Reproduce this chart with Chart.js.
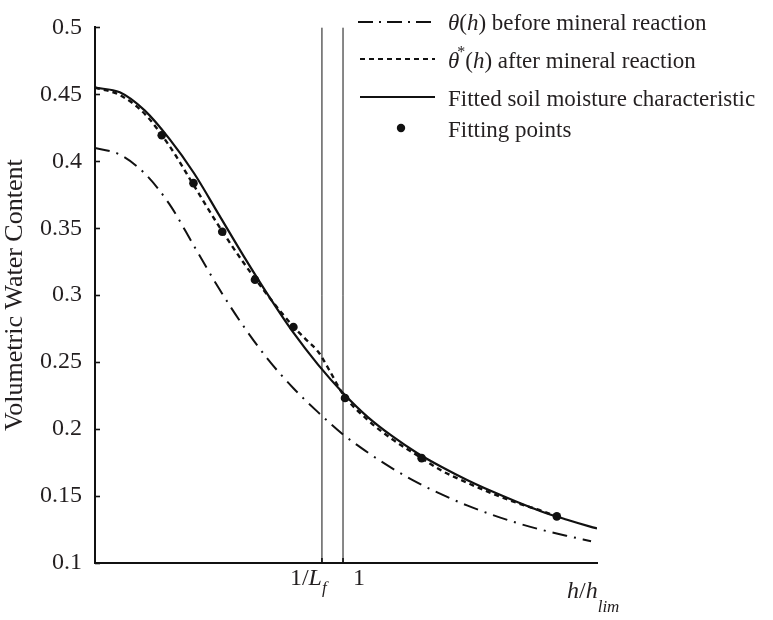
<!DOCTYPE html>
<html>
<head>
<meta charset="utf-8">
<script src="https://cdn.jsdelivr.net/npm/chart.js@4.4.1/dist/chart.umd.min.js"></script>
<style>
  html, body { margin: 0; padding: 0; background: #fff; }
  canvas { display: block; }
</style>
</head>
<body>
<canvas id="c" width="773" height="620"></canvas>
<script>
// ---- data ----
const yTicks = [0.1, 0.15, 0.2, 0.25, 0.3, 0.35, 0.4, 0.45, 0.5];
const refLines = [0.915, 1.0];          // 1/Lf and 1
const xMin = 0, xMax = 2.024;

const beforeX = [0, 0.1, 0.2, 0.3, 0.4, 0.5, 0.6, 0.7, 0.8, 0.9, 1.0, 1.1, 1.2, 1.3, 1.4, 1.5, 1.6, 1.7, 1.8, 1.9, 2.0];
const beforeY = [0.410, 0.405, 0.391, 0.368, 0.3365, 0.305, 0.2765, 0.2515, 0.2305, 0.2125, 0.196, 0.1825, 0.1705, 0.160, 0.151, 0.143, 0.1361, 0.130, 0.1248, 0.1204, 0.1163];

const afterX = [0, 0.1, 0.2, 0.3, 0.4, 0.5, 0.6, 0.7, 0.8, 0.85, 0.9, 0.915, 0.95, 1.0, 1.1, 1.2, 1.3, 1.4, 1.5, 1.6, 1.7, 1.8, 1.867];
const afterY = [0.455, 0.4495, 0.4355, 0.4115, 0.3815, 0.3515, 0.324, 0.299, 0.2765, 0.267, 0.2578, 0.2535, 0.2423, 0.226, 0.2068, 0.1922, 0.1803, 0.1687, 0.160, 0.152, 0.145, 0.139, 0.1345];

const fittedX = [0, 0.1, 0.2, 0.3, 0.4, 0.5, 0.6, 0.7, 0.8, 0.9, 1.0, 1.1, 1.2, 1.3, 1.4, 1.5, 1.6, 1.7, 1.8, 1.9, 2.0, 2.024];
const fittedY = [0.455, 0.4515, 0.438, 0.4167, 0.3909, 0.360, 0.329, 0.2995, 0.272, 0.248, 0.227, 0.209, 0.1945, 0.182, 0.1715, 0.162, 0.1535, 0.1457, 0.1385, 0.1325, 0.127, 0.1258];

const pointsX = [0.269, 0.397, 0.513, 0.645, 0.800, 1.008, 1.317, 1.862];
const pointsY = [0.4195, 0.3837, 0.3474, 0.3116, 0.2763, 0.2232, 0.1783, 0.1348];

const legendLabels = ['θ(h) before mineral reaction', 'θ*(h) after mineral reaction', 'Fitted soil moisture characteristic', 'Fitting points'];

// ---- helpers ----
const SERIF = '"Liberation Serif", "Times New Roman", serif';
const INK = '#231f20';
const pairs = (xs, ys) => xs.map((x, i) => ({ x: x, y: ys[i] }));

function drawRuns(ctx, x, base, runs) {
  let cx = x;
  runs.forEach(r => {
    ctx.font = (r.italic ? 'italic ' : '') + r.size + 'px ' + SERIF;
    ctx.fillText(r.t, cx, base + (r.dy || 0));
    cx += ctx.measureText(r.t).width + (r.kern || 0);
  });
  return cx;
}

const overlay = {
  id: 'overlay',
  afterDraw(chart) {
    const ctx = chart.ctx;
    const xs = chart.scales.x, ys = chart.scales.y;
    ctx.save();
    ctx.strokeStyle = '#111';
    ctx.lineWidth = 1.6;
    // inward y ticks
    yTicks.forEach(v => {
      const py = Math.round(ys.getPixelForValue(v)) + 0.5;
      ctx.beginPath(); ctx.moveTo(xs.left, py); ctx.lineTo(xs.left + 5, py); ctx.stroke();
    });
    // inward x ticks at the reference lines
    refLines.forEach(v => {
      const px = xs.getPixelForValue(v);
      ctx.beginPath(); ctx.moveTo(px, ys.bottom); ctx.lineTo(px, ys.bottom - 5); ctx.stroke();
    });

    ctx.fillStyle = INK;
    ctx.textAlign = 'left';
    ctx.textBaseline = 'alphabetic';
    // x labels
    const p1 = xs.getPixelForValue(refLines[0]);
    const p2 = xs.getPixelForValue(refLines[1]);
    drawRuns(ctx, p1 - 32, 585, [
      { t: '1/', size: 24 },
      { t: 'L', size: 24, italic: true },
      { t: 'f', size: 17, italic: true, dy: 8 }
    ]);
    drawRuns(ctx, p2 + 10, 585, [{ t: '1', size: 24 }]);
    drawRuns(ctx, 567, 598, [
      { t: 'h', size: 24, italic: true },
      { t: '/', size: 24 },
      { t: 'h', size: 24, italic: true },
      { t: 'lim', size: 17, italic: true, dy: 14 }
    ]);

    // legend
    const lx0 = 359, lx1 = 434, tx = 448;
    ctx.lineWidth = 2.2;
    ctx.strokeStyle = '#111';
    ctx.setLineDash([15, 6, 2, 6]);
    ctx.beginPath(); ctx.moveTo(lx0 - 1, 22); ctx.lineTo(lx1, 22); ctx.stroke();
    ctx.setLineDash([5, 4]);
    ctx.beginPath(); ctx.moveTo(lx0 + 1, 59); ctx.lineTo(lx1 + 1, 59); ctx.stroke();
    ctx.setLineDash([]);
    ctx.beginPath(); ctx.moveTo(lx0 + 1, 97); ctx.lineTo(lx1 + 1, 97); ctx.stroke();
    ctx.fillStyle = '#111';
    ctx.beginPath(); ctx.arc(401, 128, 4.2, 0, Math.PI * 2); ctx.fill();

    ctx.fillStyle = INK;
    drawRuns(ctx, tx, 30, [
      { t: 'θ', size: 23, italic: true },
      { t: '(', size: 23 },
      { t: 'h', size: 23, italic: true },
      { t: ')', size: 23 },
      { t: ' before mineral reaction', size: 23 }
    ]);
    drawRuns(ctx, tx, 68, [
      { t: 'θ', size: 23, italic: true, kern: -2 },
      { t: '*', size: 16, dy: -11 },
      { t: '(', size: 23 },
      { t: 'h', size: 23, italic: true },
      { t: ')', size: 23 },
      { t: ' after mineral reaction', size: 23 }
    ]);
    drawRuns(ctx, tx, 106, [{ t: legendLabels[2], size: 23 }]);
    drawRuns(ctx, tx, 137, [{ t: legendLabels[3], size: 23 }]);
    ctx.restore();
  }
};

const datasets = [
  {
    label: legendLabels[3],
    data: pairs(pointsX, pointsY),
    showLine: false,
    pointRadius: 4.3,
    pointBackgroundColor: '#111',
    pointBorderWidth: 0
  },
  {
    label: legendLabels[2],
    data: pairs(fittedX, fittedY),
    showLine: true, pointRadius: 0,
    borderColor: '#111', borderWidth: 2.2,
    cubicInterpolationMode: 'monotone'
  },
  {
    label: legendLabels[1],
    data: pairs(afterX, afterY),
    showLine: true, pointRadius: 0,
    borderColor: '#111', borderWidth: 2.4,
    borderDash: [5, 4],
    cubicInterpolationMode: 'monotone'
  },
  {
    label: legendLabels[0],
    data: pairs(beforeX, beforeY),
    showLine: true, pointRadius: 0,
    borderColor: '#111', borderWidth: 2.0,
    borderDash: [15, 7, 2, 7],
    cubicInterpolationMode: 'monotone'
  }
];
refLines.forEach((v, i) => {
  datasets.push({
    label: 'ref' + i,
    data: [{ x: v, y: yTicks[0] }, { x: v, y: yTicks[yTicks.length - 1] }],
    showLine: true, pointRadius: 0,
    borderColor: '#111', borderWidth: 1
  });
});

new Chart(document.getElementById('c'), {
  type: 'scatter',
  data: { datasets: datasets },
  options: {
    responsive: false,
    animation: false,
    devicePixelRatio: 1,
    layout: { padding: { left: 0, top: 23, right: 176, bottom: 0 } },
    plugins: { legend: { display: false }, tooltip: { enabled: false } },
    scales: {
      x: {
        type: 'linear', min: xMin, max: xMax,
        grid: { display: true, drawOnChartArea: false, drawTicks: false, color: 'rgba(0,0,0,0)' },
        border: { display: true, color: '#111', width: 2 },
        ticks: { display: false },
        afterFit: s => { s.height = 57; }
      },
      y: {
        min: yTicks[0], max: yTicks[yTicks.length - 1],
        grid: { display: true, drawOnChartArea: false, drawTicks: false, color: 'rgba(0,0,0,0)' },
        border: { display: true, color: '#111', width: 2 },
        afterBuildTicks: s => { s.ticks = yTicks.map(v => ({ value: v })); },
        ticks: {
          padding: 13,
          color: INK,
          font: { family: SERIF, size: 24 },
          callback: v => String(+v.toFixed(2))
        },
        title: {
          display: true,
          text: 'Volumetric Water Content',
          color: INK,
          font: { family: SERIF, size: 26, lineHeight: 1.2 },
          padding: { top: 0, bottom: 0 }
        },
        afterFit: s => { s.width = 95; }
      }
    }
  },
  plugins: [overlay]
});
</script>
</body>
</html>
